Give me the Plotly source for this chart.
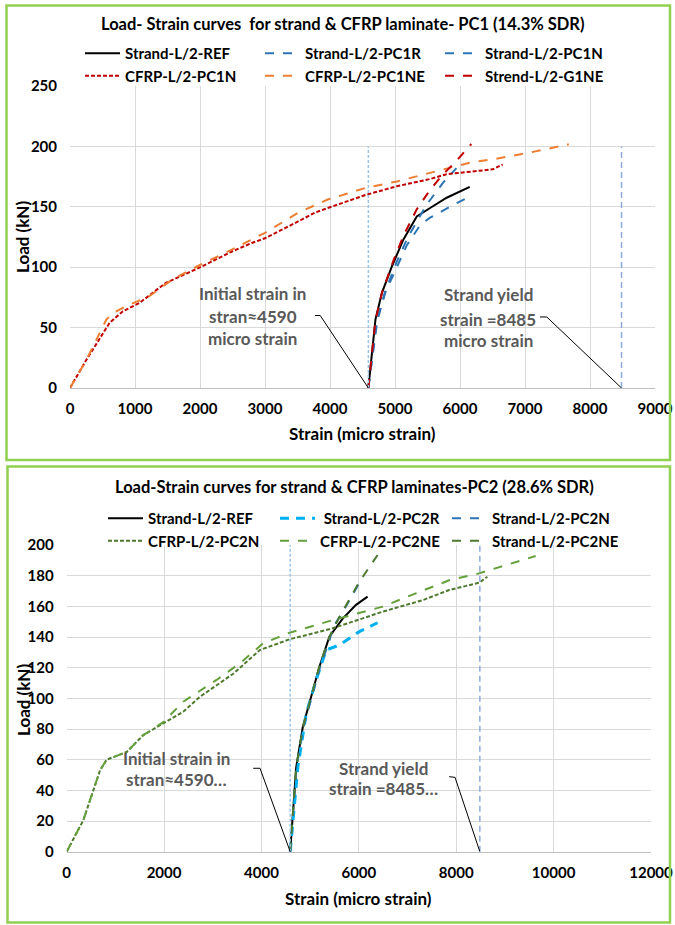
import plotly.graph_objects as go

# ---------------- Data: top chart (PC1, 14.3% SDR) ----------------
t_ref_x = [4590, 4700, 4800, 4955, 5130, 5335, 5540, 5795, 6150]
t_ref_y = [0, 57, 79, 101, 123, 142, 149, 157.5, 166.5]
t_pc1r_x = [4590, 4725, 4850, 5030, 5180, 5390, 5540, 5845, 6110]
t_pc1r_y = [0, 55, 79, 100, 118, 135, 141, 150, 157.5]
t_pc1n_x = [4590, 4720, 4850, 5030, 5200, 5330, 5490, 5740, 5945]
t_pc1n_y = [0, 56, 80, 105, 125, 137, 152, 170, 182]
t_cfrp_n_x = [0, 254, 610, 813, 1068, 1474, 1983, 2491, 2796, 3000, 3406, 3762, 3965,
              4558, 5030, 5538, 5793, 6148, 6504, 6656]
t_cfrp_n_y = [0, 23.5, 54, 63.5, 70.4, 87, 99.4, 113, 120, 124, 135, 145, 149,
              160, 167, 173, 177, 179, 181, 185]
t_cfrp_ne_x = [0, 254, 559, 661, 864, 1220, 1576, 1983, 2491, 3000, 3508, 3965,
               4558, 5030, 5640, 6148, 6555, 7063, 7673]
t_cfrp_ne_y = [0, 23.5, 56.6, 62, 67.7, 76, 89.8, 101.4, 114.6, 128.5, 145, 156,
               165.8, 171, 179.5, 186.5, 189.8, 194.8, 201.7]
t_g1ne_x = [4590, 4700, 4800, 4980, 5130, 5335, 5540, 5740, 5945, 6175]
t_g1ne_y = [0, 56, 79, 106, 126, 148, 164, 177, 188, 202]

# ---------------- Data: bottom chart (PC2, 28.6% SDR) ----------------
b_ref_x = [4590, 4713, 4850, 5020, 5190, 5395, 5668, 5942, 6180]
b_ref_y = [0, 55, 81.5, 101, 120.6, 140.2, 152, 161, 166.3]
b_pc2r_x = [4590, 4747, 4918, 5123, 5328, 5601, 6010, 6385]
b_pc2r_y = [0, 55, 90, 112, 131.5, 134.8, 143.5, 149.3]
b_pc2n_x = [4590, 4720, 4860, 5030, 5200, 5400, 5463, 5737, 6078]
b_pc2n_y = [0, 55, 81, 100, 120, 138, 146, 160, 179]
b_cfrp_n_x = [0, 342, 684, 820, 1231, 1573, 1983, 2393, 2735, 3419, 3966, 4577,
              5463, 6488, 7307, 7855, 8469, 8640]
b_cfrp_n_y = [0, 20.6, 53, 60, 65, 76, 83.7, 91.3, 101, 116, 131.5, 138.5,
              145.7, 156.5, 164, 170.6, 175.4, 179.3]
b_cfrp_ne_x = [0, 342, 684, 820, 1231, 1573, 1983, 2393, 3077, 3556, 4034, 4577,
               5463, 6488, 7170, 7855, 8469, 9631]
b_cfrp_ne_y = [0, 20.6, 53, 60, 65, 76, 84.5, 97.8, 112, 122.8, 135.9, 142.8,
               151, 159.8, 168.5, 177, 181.5, 192.8]
b_pc2ne_x = [4590, 4713, 4850, 5020, 5190, 5395, 5601, 6010, 6385]
b_pc2ne_y = [0, 55, 81, 101, 121, 140, 153, 176, 193.5]

initial_strain = 4590
yield_strain = 8485
marker_load = [0, 200]

top_x_ticks = [0, 1000, 2000, 3000, 4000, 5000, 6000, 7000, 8000, 9000]
top_y_ticks = [0, 50, 100, 150, 200, 250]
bot_x_ticks = [0, 2000, 4000, 6000, 8000, 10000, 12000]
bot_y_ticks = [0, 20, 40, 60, 80, 100, 120, 140, 160, 180, 200]

W, H = 675, 925
FONT = "Lato"
GREY = "#595959"


def px(x):
    return x / W


def py(y):
    return 1 - y / H


fig = go.Figure()


def line(x, y, name, color, dash, width, xa, ya, legend):
    fig.add_trace(go.Scatter(x=x, y=y, mode="lines", name=name,
                             line=dict(color=color, dash=dash, width=width),
                             xaxis=xa, yaxis=ya, legend=legend))


# top traces (legend order: row1 then row2)
line(t_ref_x, t_ref_y, "Strand-L/2-REF", "#000000", "solid", 2, "x", "y", "legend")
line(t_pc1r_x, t_pc1r_y, "Strand-L/2-PC1R", "#2E75B6", "dash", 2, "x", "y", "legend")
line(t_pc1n_x, t_pc1n_y, "Strand-L/2-PC1N", "#2E75B6", "dash", 2, "x", "y", "legend")
line(t_cfrp_n_x, t_cfrp_n_y, "CFRP-L/2-PC1N", "#C00000", "4px,2px", 2, "x", "y", "legend")
line(t_cfrp_ne_x, t_cfrp_ne_y, "CFRP-L/2-PC1NE", "#ED7D31", "dash", 2, "x", "y", "legend")
line(t_g1ne_x, t_g1ne_y, "Strend-L/2-G1NE", "#C00000", "dash", 2, "x", "y", "legend")

# bottom traces
line(b_ref_x, b_ref_y, "Strand-L/2-REF", "#000000", "solid", 2, "x2", "y2", "legend2")
line(b_pc2r_x, b_pc2r_y, " Strand-L/2-PC2R", "#00B0F0", "9px,7px", 3, "x2", "y2", "legend2")
line(b_pc2n_x, b_pc2n_y, "Strand-L/2-PC2N", "#2E75B6", "dash", 2, "x2", "y2", "legend2")
line(b_cfrp_n_x, b_cfrp_n_y, "CFRP-L/2-PC2N", "#4F7A2E", "4px,2px", 2, "x2", "y2", "legend2")
line(b_cfrp_ne_x, b_cfrp_ne_y, "CFRP-L/2-PC2NE", "#64A03C", "dash", 2, "x2", "y2", "legend2")
line(b_pc2ne_x, b_pc2ne_y, "Strand-L/2-PC2NE", "#4E7A30", "dash", 2, "x2", "y2", "legend2")

# vertical reference lines and leader lines (no legend)
for xa, ya in (("x", "y"), ("x2", "y2")):
    fig.add_trace(go.Scatter(x=[initial_strain, initial_strain], y=marker_load, mode="lines",
                             line=dict(color="#9DC3E6", dash="3px,2px", width=1.5),
                             xaxis=xa, yaxis=ya, showlegend=False, hoverinfo="skip"))
    fig.add_trace(go.Scatter(x=[yield_strain, yield_strain], y=marker_load, mode="lines",
                             line=dict(color="#8FAADC", dash="6px,4px", width=1.5),
                             xaxis=xa, yaxis=ya, showlegend=False, hoverinfo="skip"))

fig.add_trace(go.Scatter(x=[3770, 3850, initial_strain], y=[60, 60, 0], mode="lines",
                         line=dict(color="#000000", width=1), xaxis="x", yaxis="y",
                         showlegend=False, hoverinfo="skip"))
fig.add_trace(go.Scatter(x=[7230, 7335, yield_strain], y=[58.8, 58.8, 0], mode="lines",
                         line=dict(color="#000000", width=1), xaxis="x", yaxis="y",
                         showlegend=False, hoverinfo="skip"))
fig.add_trace(go.Scatter(x=[3830, 3970, initial_strain], y=[54.4, 54.4, 0], mode="lines",
                         line=dict(color="#000000", width=1), xaxis="x2", yaxis="y2",
                         showlegend=False, hoverinfo="skip"))
fig.add_trace(go.Scatter(x=[7855, 7975, yield_strain], y=[48.9, 48.5, 0], mode="lines",
                         line=dict(color="#000000", width=1), xaxis="x2", yaxis="y2",
                         showlegend=False, hoverinfo="skip"))

tickfont = dict(family=FONT, size=15, color="#000000", weight="bold")
axcommon = dict(showgrid=True, gridcolor="#D9D9D9", gridwidth=1, zeroline=False,
                tickfont=tickfont, ticks="", automargin=False, fixedrange=True,
                tickformat="d")

fig.update_layout(
    width=W, height=H,
    margin=dict(l=0, r=0, t=0, b=0),
    paper_bgcolor="white", plot_bgcolor="white",
    font=dict(family=FONT),
    xaxis=dict(domain=[px(70), px(655)], range=[0, 9000], tickvals=top_x_ticks,
               anchor="y", showline=True, linecolor="#BFBFBF", ticklabelstandoff=7, **axcommon),
    yaxis=dict(domain=[py(388), py(86)], range=[0, 250], tickvals=top_y_ticks,
               anchor="x", showline=False, ticklabelstandoff=12, **axcommon),
    xaxis2=dict(domain=[px(66.7), px(651)], range=[0, 12000], tickvals=bot_x_ticks,
                anchor="y2", showline=True, linecolor="#BFBFBF", ticklabelstandoff=7, **axcommon),
    yaxis2=dict(domain=[py(851.7), py(545)], range=[0, 200], tickvals=bot_y_ticks,
                anchor="x2", showline=False, ticklabelstandoff=12, **axcommon),
    legend=dict(orientation="h", x=px(80), y=py(37), xanchor="left", yanchor="top",
                font=dict(family=FONT, size=15, color="#000000", weight="bold"),
                itemwidth=35, entrywidth=130, bgcolor="rgba(0,0,0,0)", tracegroupgap=0),
    legend2=dict(orientation="h", x=px(103), y=py(502), xanchor="left", yanchor="top",
                 font=dict(family=FONT, size=15, color="#000000", weight="bold"),
                 itemwidth=35, entrywidth=122, bgcolor="rgba(0,0,0,0)", tracegroupgap=0),
    showlegend=True,
)

ann = []
titlefont = dict(family=FONT, size=16.5, color="#000000", weight="bold")
ann.append(dict(text="Load- Strain curves  for strand &amp; CFRP laminate- PC1 (14.3% SDR)",
                x=px(343), y=py(24), xref="paper", yref="paper", showarrow=False,
                font=titlefont, xanchor="center", yanchor="middle"))
ann.append(dict(text="Load-Strain curves for strand &amp; CFRP laminates-PC2 (28.6% SDR)",
                x=px(354), y=py(487), xref="paper", yref="paper", showarrow=False,
                font=titlefont, xanchor="center", yanchor="middle"))
axtitlefont = dict(family=FONT, size=17, color="#000000", weight="bold")
ann.append(dict(text="Strain (micro strain)", x=px(362), y=py(433), xref="paper", yref="paper",
                showarrow=False, font=axtitlefont, xanchor="center", yanchor="middle"))
ann.append(dict(text="Strain (micro strain)", x=px(359), y=py(898), xref="paper", yref="paper",
                showarrow=False, font=axtitlefont, xanchor="center", yanchor="middle"))
ann.append(dict(text="Load (kN)", x=px(22), y=py(237), xref="paper", yref="paper", textangle=-90,
                showarrow=False, font=axtitlefont, xanchor="center", yanchor="middle"))
ann.append(dict(text="Load (kN)", x=px(23), y=py(700), xref="paper", yref="paper", textangle=-90,
                showarrow=False, font=axtitlefont, xanchor="center", yanchor="middle"))

notefont = dict(family=FONT, size=17, color=GREY, weight="bold")
for txt, xv, yv, xa, ya in [
    ("Initial strain in", 2815, 78.6, "x", "y"),
    ("stran≈4590", 2815, 58.8, "x", "y"),
    ("micro strain", 2815, 40.6, "x", "y"),
    ("Strand yield", 6431, 77, "x", "y"),
    ("strain =8485", 6431, 57, "x", "y"),
    ("micro strain", 6431, 39.7, "x", "y"),
    ("Initial strain in", 2259, 60.9, "x2", "y2"),
    ("stran≈4590…", 2259, 46.8, "x2", "y2"),
    ("Strand yield", 6502, 54.4, "x2", "y2"),
    ("strain =8485…", 6502, 41.3, "x2", "y2"),
]:
    ann.append(dict(text=txt, x=xv, y=yv, xref=xa, yref=ya, showarrow=False,
                    font=notefont, xanchor="center", yanchor="middle"))
fig.update_layout(annotations=ann)

# green panel borders
fig.update_layout(shapes=[
    dict(type="rect", xref="paper", yref="paper", x0=px(6.5), x1=px(670), y0=py(460), y1=py(5.5),
         line=dict(color="#92D050", width=2.5), layer="above"),
    dict(type="rect", xref="paper", yref="paper", x0=px(7.5), x1=px(670), y0=py(922.5), y1=py(466.5),
         line=dict(color="#92D050", width=2.5), layer="above"),
])

fig.write_html("out.html", config={"displayModeBar": False},
               post_script="document.body.style.margin='0';")
